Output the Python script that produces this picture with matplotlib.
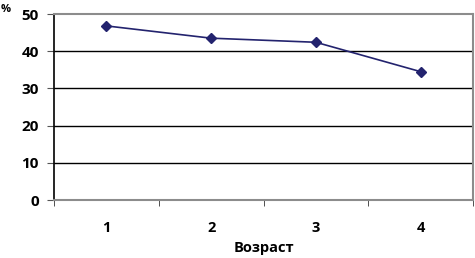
import matplotlib
matplotlib.use('Agg')
import matplotlib.pyplot as plt

# данные
categories = ['1', '2', '3', '4']
values = [46.8, 43.5, 42.4, 34.5]
yticks = [0, 10, 20, 30, 40, 50]

plt.rcParams['font.family'] = ['Open Sans', 'DejaVu Sans']

fig = plt.figure(figsize=(4.75, 2.58), dpi=100)
ax = fig.add_axes([54 / 475, 58 / 258, 419 / 475, 186 / 258])

x = range(len(categories))
ax.plot(x, values, color='#23236e', linewidth=1.2, marker='D',
        markersize=5.5, markerfacecolor='#23236e', markeredgecolor='#23236e', zorder=3)

ax.set_xlim(-0.5, len(categories) - 0.5)
ax.set_ylim(0, 50)
ax.set_yticks(yticks)
ax.set_yticklabels([str(v) for v in yticks], fontsize=11, fontweight='bold')

# метки категорий по центру, засечки на границах
ax.set_xticks(list(x))
ax.set_xticklabels(categories, fontsize=10.5, fontweight='bold')
ax.tick_params(axis='x', length=0, pad=15)
ax.set_xticks([i - 0.5 for i in range(len(categories) + 1)], minor=True)
ax.tick_params(axis='x', which='minor', length=4, color='#333333', direction='out')
ax.tick_params(axis='y', length=5, color='#555555', pad=6)

for v in yticks[1:-1]:
    ax.axhline(v, color='black', linewidth=1, zorder=1)

ax.spines['left'].set_color('black')
ax.spines['left'].set_linewidth(1.2)
for s in ['top', 'right', 'bottom']:
    ax.spines[s].set_color('#8c8c8c')
    ax.spines[s].set_linewidth(1.5)

ax.set_xlabel('Возраст', fontsize=10.5, fontweight='bold', labelpad=4.5)
fig.text(1 / 475, 1 - 12 / 258, '%', fontsize=8, fontweight='bold')

fig.savefig('out.png', dpi=100)
